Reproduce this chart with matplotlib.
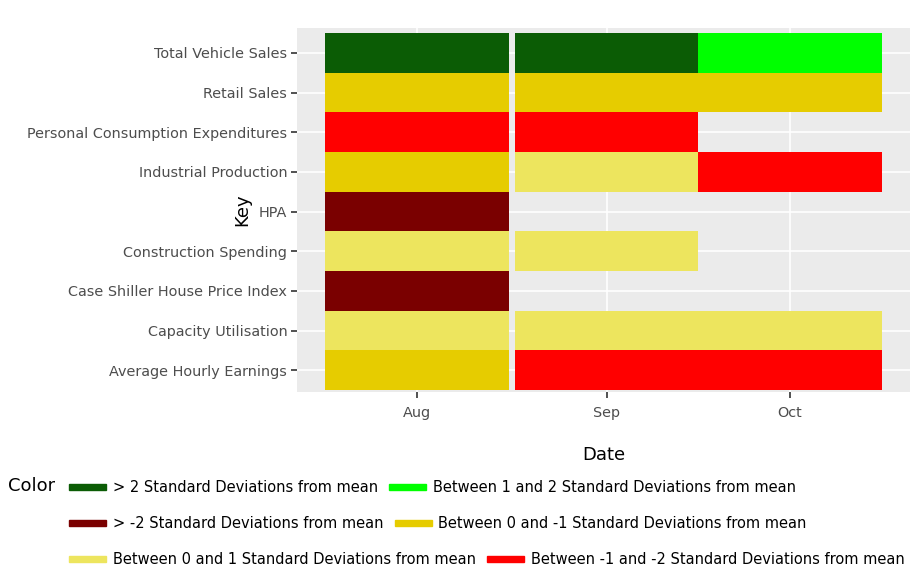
import pandas as pd
import matplotlib.pyplot as plt
import matplotlib.dates as mdates
from matplotlib.patches import Rectangle

# Indicadores (de baixo para cima no eixo y)
chaves = ['Average Hourly Earnings', 'Capacity Utilisation', 'Case Shiller House Price Index',
          'Construction Spending', 'HPA', 'Industrial Production',
          'Personal Consumption Expenditures', 'Retail Sales', 'Total Vehicle Sales']

meses = ['2017-08-01', '2017-09-01', '2017-10-01']
rotulos_meses = ['Aug', 'Sep', 'Oct']

categorias = ['> 2 Standard Deviations from mean',
              'Between 1 and 2 Standard Deviations from mean',
              '> -2 Standard Deviations from mean',
              'Between 0 and -1 Standard Deviations from mean',
              'Between 0 and 1 Standard Deviations from mean',
              'Between -1 and -2 Standard Deviations from mean']
cores = ['#0B5C05', '#00FF00', '#7A0000', '#E6CC00', '#EDE55E', '#FF0000']

# categoria de cada indicador por mês (índice em categorias, None = sem dado)
cat_ago = [3, 4, 2, 4, 2, 3, 5, 3, 0]
cat_set = [5, 4, None, 4, None, 4, 5, 3, 0]
cat_out = [5, 4, None, None, None, 5, None, 3, 1]

fig = plt.figure(figsize=(9.18, 5.83), dpi=100)
ax = fig.add_axes([297 / 918, 1 - 392 / 583, 613 / 918, 364 / 583])
ax.set_facecolor('#EBEBEB')

datas = mdates.date2num(pd.to_datetime(meses))
for d, cats in zip(datas, [cat_ago, cat_set, cat_out]):
    for i, c in enumerate(cats):
        if c is None:
            continue
        ax.bar(d, 1, width=30, bottom=i - 0.5, color=cores[c], linewidth=0, zorder=3)

ax.set_xlim(datas[0] - 19.6, datas[-1] + 19.6)
ax.set_ylim(-0.55, len(chaves) - 0.37)

ax.set_xticks(datas)
ax.set_xticklabels(rotulos_meses)
ax.set_yticks(range(len(chaves)))
ax.set_yticklabels(chaves)
ax.tick_params(axis='both', colors='#333333', labelcolor='#4D4D4D', labelsize=10.4, length=4, width=1.2)
ax.tick_params(axis='x', pad=6)
ax.tick_params(axis='y', pad=3)

ax.grid(True, color='white', linewidth=1.2, zorder=1)
ax.set_axisbelow(True)
for s in ax.spines.values():
    s.set_visible(False)

fig.text(604 / 918, 1 - 455 / 583, 'Date', fontsize=13, ha='center', va='center')
fig.text(242 / 918, 1 - 210 / 583, 'Key', fontsize=13, ha='center', va='center', rotation=90)

# Legenda horizontal em fluxo (estilo plotly)
fig.text(8 / 918, 1 - 486 / 583, 'Color', fontsize=13, ha='left', va='center')
renderer = fig.canvas.get_renderer()
linhas_y = [487, 523, 559]
for r, y in enumerate(linhas_y):
    x = 69
    for k in (2 * r, 2 * r + 1):
        fig.patches.append(Rectangle((x / 918, 1 - (y + 3) / 583), 37 / 918, 6 / 583,
                                     transform=fig.transFigure, color=cores[k]))
        t = fig.text((x + 44) / 918, 1 - y / 583, categorias[k], fontsize=10.5,
                     ha='left', va='center')
        w = t.get_window_extent(renderer).width
        x = x + 44 + w + 11

fig.savefig('out.png', dpi=100)
